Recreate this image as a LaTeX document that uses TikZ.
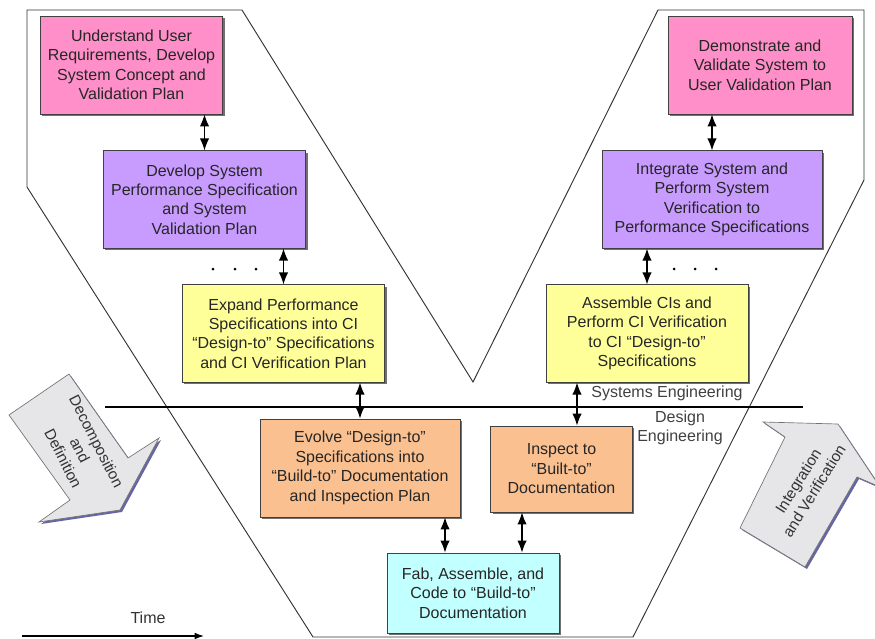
\documentclass[tikz,border=0pt]{standalone}
\usepackage{fontspec}
\setmainfont{Liberation Sans}
\usepackage{xcolor}
\usepackage{tikz}
\usetikzlibrary{calc}
\usetikzlibrary{arrows.meta}
\usetikzlibrary{shadows}

\definecolor{boxpink}{RGB}{255,143,200}
\definecolor{boxpurple}{RGB}{200,155,255}
\definecolor{boxyellow}{RGB}{255,255,153}
\definecolor{boxorange}{RGB}{251,192,143}
\definecolor{boxcyan}{RGB}{194,255,255}
\definecolor{arrowgray}{RGB}{230,230,232}

\begin{document}
\begin{tikzpicture}[x=0.75pt,y=-0.75pt,
    every node/.style={font=\fontsize{12}{14.6}\selectfont, text=black!85},
    phase/.style={draw=black!75, line width=0.6pt, align=center, inner sep=2pt,
        drop shadow={shadow xshift=1.5pt, shadow yshift=-1.5pt, fill=black!70, opacity=0.8}},
    dbl/.style={line width=0.9pt, {Latex[length=9pt,width=7pt]}-{Latex[length=9pt,width=7pt]}},
    bigarrow/.style={fill=arrowgray, draw=black!55, line width=0.5pt,
        drop shadow={shadow xshift=1.5pt, shadow yshift=-1.5pt, fill=black!60!blue, opacity=0.6}}]
        \useasboundingbox (0,0) rectangle (875,639);

        %OUTLINE
        \draw[black!80, line width=0.7pt] (27,10) -- (242,10) -- (473,382) -- (658,10) -- (864,10)
            -- (864,180) -- (633,637) -- (313,637) -- (27,187) -- cycle;

        %GARIS SE/DE
        \draw[line width=1.6pt] (105,407) -- (803,407);

        %BOXES
        \node[phase, fill=boxpink, minimum width=137pt, minimum height=73.5pt] (uur) at (131.5,65)
            {Understand User\\Requirements, Develop\\System Concept and\\Validation Plan};
        \node[phase, fill=boxpurple, minimum width=152pt, minimum height=73pt] (dsp) at (204.5,199.5)
            {Develop System\\Performance Specification\\and System\\Validation Plan};
        \node[phase, fill=boxyellow, minimum width=152pt, minimum height=73pt] (epe) at (283.5,333.5)
            {Expand Performance\\Specifications into CI\\``Design-to'' Specifications\\and CI Verification Plan};
        \node[phase, fill=boxpink, minimum width=138pt, minimum height=73.5pt] (dvs) at (760,65)
            {Demonstrate and\\Validate System to\\User Validation Plan};
        \node[phase, fill=boxpurple, minimum width=165pt, minimum height=73pt] (isp) at (712,199.5)
            {Integrate System and\\Perform System\\Verification to\\Performance Specifications};
        \node[phase, fill=boxyellow, minimum width=151.5pt, minimum height=73pt] (aci) at (647,333.5)
            {Assemble CIs and\\Perform CI Verification\\to CI ``Design-to''\\Specifications};
        \node[phase, fill=boxorange, minimum width=150pt, minimum height=73.5pt] (evd) at (360,468)
            {Evolve ``Design-to''\\Specifications into\\``Build-to'' Documentation\\and Inspection Plan};
        \node[phase, fill=boxorange, minimum width=106pt, minimum height=64.5pt] (itb) at (561.5,469)
            {Inspect to\\``Built-to''\\Documentation};
        \node[phase, fill=boxcyan, minimum width=129pt, minimum height=60pt] (fab) at (473,593)
            {Fab, Assemble, and\\Code to ``Build-to''\\Documentation};

        %ARROWS
        \draw[dbl] (uur.south -| dsp.north) -- (dsp.north);
        \draw[dbl] (dsp.south -| epe.north) -- (epe.north);
        \draw[dbl] (epe.south -| evd.north) -- (evd.north);
        \draw[dbl] (dvs.south -| isp.north) -- (isp.north);
        \draw[dbl] (isp.south -| aci.north) -- (aci.north);
        \draw[dbl] ($(aci.south)+(-70,0)$) coordinate (a1) -- (a1 |- itb.north);
        \draw[dbl] ($(fab.north)+(-28,0)$) coordinate (b1) -- (b1 |- evd.south);
        \draw[dbl] ($(fab.north)+(49,0)$) coordinate (b2) -- (b2 |- itb.south);

        %DOTS
        \foreach \x in {213,235,256} \fill (\x,269) circle (1.5);
        \foreach \x in {674,695,716} \fill (\x,269) circle (1.5);

        %LABEL
        \node[text=black!75] (se) at (667,393){Systems Engineering};
        \node[text=black!75, align=center] (de) at (680,428){Design\\Engineering};

        %BIG ARROWS
        \draw[bigarrow] (9,415) -- (69,374) -- (128,458) -- (159,438) -- (120,510) -- (39,522) -- (70,500) -- cycle;
        \node[rotate=-63, align=center, text=black!80, font=\fontsize{11.5}{14}\selectfont] (dd) at (80,450){Decomposition\\and\\Definition};
        \draw[bigarrow] (763,422) -- (785,437) -- (740,528) -- (805,567) -- (857,477) -- (880,487) -- (838,424) -- cycle;
        \node[rotate=58, align=center, text=black!80, font=\fontsize{11.5}{14}\selectfont] (iv) at (806,486){Integration\\and Verification};

        %TIME
        \node[text=black!80] (time) at (148,618){Time};
        \coordinate (t0) at (22,636);
        \coordinate (t1) at (204,636);
        \draw[line width=0.9pt, -{Latex[length=7pt,width=5pt]}] (t0) -- (t1);
    \end{tikzpicture}
\end{document}
